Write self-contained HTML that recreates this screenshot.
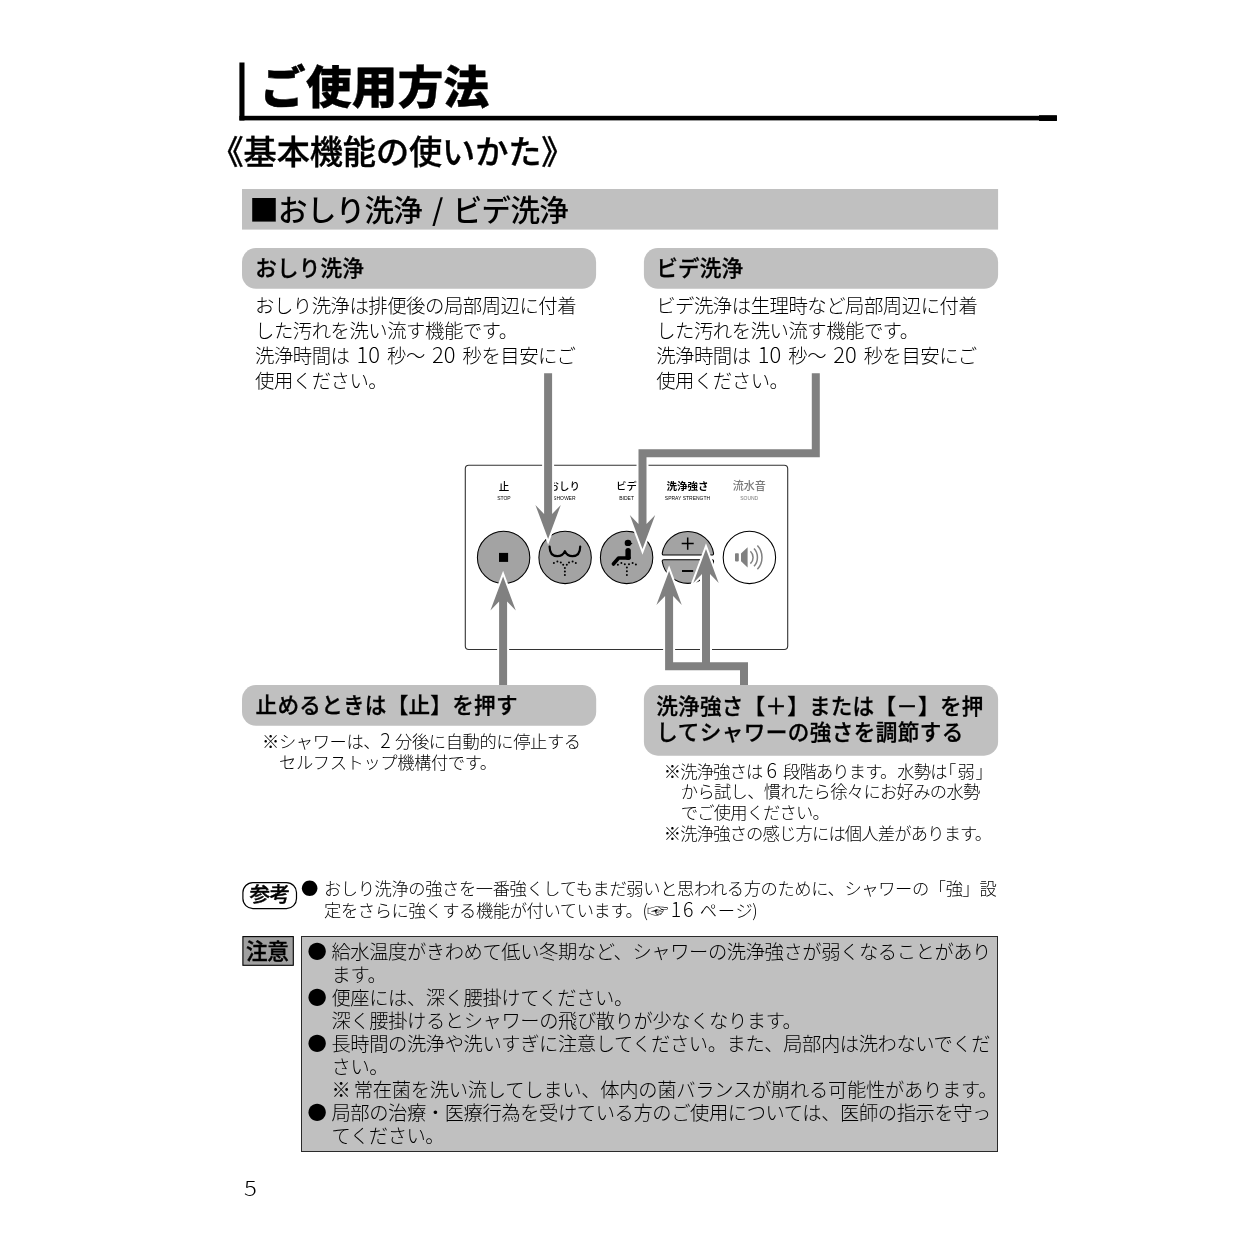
<!DOCTYPE html>
<html lang="ja">
<head>
<meta charset="utf-8">
<title>ご使用方法</title>
<style>
html,body{margin:0;padding:0;background:#fff;}
body{width:1240px;height:1240px;position:relative;overflow:hidden;
  font-family:"Liberation Sans","Noto Sans CJK JP",sans-serif;color:#000;}
#page{position:absolute;left:0;top:0;width:1240px;height:1240px;will-change:transform;}
.abs{position:absolute;}
.t{position:absolute;white-space:nowrap;margin:0;padding:0;}
.k{font-family:"Noto Sans CJK JP","Liberation Sans",sans-serif;line-height:0;}
.h1{font-size:45.6px;font-weight:900;line-height:50px;left:260px;top:63.5px;letter-spacing:0.3px;-webkit-text-stroke:0.4px #000;}
.h2{font-size:33.2px;font-weight:500;line-height:40px;left:210.5px;top:133.3px;letter-spacing:-0.1px;-webkit-text-stroke:0.35px #000;}
.sect{font-size:29.5px;font-weight:500;line-height:41px;left:249.3px;top:189.5px;letter-spacing:-0.7px;}
.pt{font-size:21.6px;font-weight:500;line-height:30px;letter-spacing:0.15px;-webkit-text-stroke:0.3px #000;}
.b{font-size:19.4px;font-weight:300;line-height:25px;letter-spacing:-0.5px;}
.n{font-size:17.3px;font-weight:300;line-height:21.2px;letter-spacing:-0.4px;}
.c{font-size:19.3px;font-weight:300;line-height:23px;letter-spacing:-0.41px;}
.d{font-family:"Noto Sans CJK JP","Liberation Sans",sans-serif;line-height:0;font-size:1.13em;letter-spacing:0;}
</style>
</head>
<body>
<div id="page">
<svg class="abs" style="left:0;top:0" width="1240" height="1240" viewBox="0 0 1240 1240">
<rect x="239.4" y="62.5" width="5.1" height="58" fill="#000"/>
<rect x="239.4" y="115.8" width="817.5" height="4.6" fill="#000"/>
<rect x="1039" y="115.2" width="17.9" height="5.8" fill="#000"/>
<rect x="242" y="189" width="756.1" height="40.6" fill="#c0c0c0"/>
<rect x="242" y="248.1" width="354.1" height="40.7" rx="14" fill="#c0c0c0"/>
<rect x="643.9" y="248.1" width="354.2" height="40.7" rx="14" fill="#c0c0c0"/>
<rect x="242.9" y="882.6" width="53.6" height="26" rx="10" fill="#fff" stroke="#000" stroke-width="1.2"/>
<rect x="242.9" y="936.6" width="50.4" height="28.7" fill="#a0a0a0" stroke="#000" stroke-width="1.1"/>
<rect x="301.5" y="936.5" width="696" height="215" fill="#c0c0c0" stroke="#2a2a2a" stroke-width="1"/>
</svg>
<h1 class="t h1">ご使用方法</h1>
<h2 class="t h2">《基本機能の使いかた》</h2>
<h3 class="t sect"><span class="k">■</span>おしり洗浄<span class="k" style="padding:0 4px"> / </span>ビデ洗浄</h3>

<div class="t pt" style="left:255.2px;top:253.5px">おしり洗浄</div>
<div class="t pt" style="left:656.2px;top:253.5px">ビデ洗浄</div>

<div class="t b" style="left:255px;top:293.8px">おしり洗浄は排便後の局部周辺に付着<br>した汚れを洗い流す機能です。<br><span style="word-spacing:2.2px">洗浄時間は <span class="d">10</span> 秒～ <span class="d">20</span> 秒を目安にご</span><br>使用ください。</div>
<div class="t b" style="left:656.2px;top:293.8px">ビデ洗浄は生理時など局部周辺に付着<br>した汚れを洗い流す機能です。<br><span style="word-spacing:2.2px">洗浄時間は <span class="d">10</span> 秒～ <span class="d">20</span> 秒を目安にご</span><br>使用ください。</div>

<svg class="abs" id="dia" style="left:0;top:0" width="1240" height="1240" viewBox="0 0 1240 1240">
<rect x="465.3" y="465.3" width="322.4" height="184.2" rx="3.5" fill="#fff" stroke="#333" stroke-width="1.1"/>
<circle cx="503.6" cy="557.4" r="26.2" fill="#a3a3a3" stroke="#000" stroke-width="1.05"/>
<circle cx="565.1" cy="557.4" r="26.2" fill="#a3a3a3" stroke="#000" stroke-width="1.05"/>
<circle cx="626.6" cy="557.4" r="26.2" fill="#a3a3a3" stroke="#000" stroke-width="1.05"/>
<path d="M663.83,555.00 Q662.13,555.00 662.23,553.30 A26.0,26.0 0 0 1 713.57,553.30 Q713.67,555.00 711.97,555.00 Z" fill="#a3a3a3" stroke="#000" stroke-width="1.05"/>
<path d="M663.83,559.80 Q662.13,559.80 662.23,561.50 A26.0,26.0 0 0 0 713.57,561.50 Q713.67,559.80 711.97,559.80 Z" fill="#a3a3a3" stroke="#000" stroke-width="1.05"/>
<path d="M681.7,543.5 H693.7 M687.7,537.4 V549.7" stroke="#000" stroke-width="1.5" fill="none"/>
<path d="M682,571 H693.2" stroke="#000" stroke-width="1.9" fill="none"/>
<circle cx="749.4" cy="557.4" r="26.2" fill="#fff" stroke="#000" stroke-width="1.05"/>
<g fill="#808080" stroke="none"><rect x="735" y="553.2" width="3.8" height="8.2" rx="0.8"/><path d="M741,553.4 L747.6,547.2 V567.4 L741,561.2 Z"/></g>
<g fill="none" stroke="#808080" stroke-width="1.5" stroke-linecap="butt"><path d="M750.4,551.2 A8.5,8.5 0 0 1 750.4,563.6"/><path d="M754,548.6 A13,13 0 0 1 754,566.2"/><path d="M757.4,545.6 A17.5,17.5 0 0 1 757.4,569.2"/></g>
<rect x="499" y="552.9" width="9.1" height="9" fill="#000"/>
<path d="M549.6,546.6 C549.6,553 552.6,556.2 557.3,556.2 C561,556.2 563.6,554 564.9,551.2 C566.2,554 568.8,556.2 572.5,556.2 C577.2,556.2 580.2,553 580.2,546.6" fill="none" stroke="#000" stroke-width="2.2" stroke-linecap="round" stroke-linejoin="round"/>
<g fill="#000"><circle cx="553.9" cy="562.9" r="1.0"/><circle cx="557.4" cy="561.6" r="1.0"/><circle cx="560.8" cy="562.5" r="1.0"/><circle cx="563.2" cy="564.8" r="1.0"/><circle cx="566.8" cy="564.8" r="1.0"/><circle cx="569.0" cy="562.5" r="1.0"/><circle cx="572.6" cy="561.6" r="1.0"/><circle cx="575.8" cy="562.9" r="1.0"/><circle cx="564.9" cy="568.1" r="1.0"/><circle cx="564.9" cy="571.5" r="1.0"/><circle cx="564.9" cy="575.0" r="1.0"/></g>
<ellipse cx="628" cy="542.9" rx="3.3" ry="3.2" fill="#000"/><path d="M628,541.5 L632.6,543.6 L629.5,545.6 Z" fill="#000"/>
<path d="M628.1,550.6 V557.3" fill="none" stroke="#000" stroke-width="5.4" stroke-linecap="round"/>
<path d="M629,558 H618.6 L613.4,564" fill="none" stroke="#000" stroke-width="3.6" stroke-linecap="round" stroke-linejoin="round"/>
<g fill="#000"><circle cx="617.9" cy="564.7" r="1.0"/><circle cx="621.4" cy="563.1" r="1.0"/><circle cx="624.8" cy="564.2" r="1.0"/><circle cx="629.0" cy="564.2" r="1.0"/><circle cx="632.6" cy="562.9" r="1.0"/><circle cx="635.9" cy="564.5" r="1.0"/><circle cx="626.9" cy="567.5" r="1.0"/><circle cx="626.9" cy="571.3" r="1.0"/><circle cx="626.9" cy="575.0" r="1.0"/></g>
<text x="503.9" y="490.3" text-anchor="middle" font-size="10.5" font-weight="500" fill="#000" font-family="'Liberation Sans','Noto Sans CJK JP',sans-serif">止</text>
<text x="503.9" y="500" text-anchor="middle" font-size="5" fill="#000" font-family="'Liberation Sans',sans-serif">STOP</text>
<text x="564.3" y="490.3" text-anchor="middle" font-size="10.5" font-weight="500" fill="#000" font-family="'Liberation Sans','Noto Sans CJK JP',sans-serif">おしり</text>
<text x="564.3" y="500" text-anchor="middle" font-size="5" fill="#000" font-family="'Liberation Sans',sans-serif">SHOWER</text>
<text x="626.6" y="490.3" text-anchor="middle" font-size="10.5" font-weight="500" fill="#000" font-family="'Liberation Sans','Noto Sans CJK JP',sans-serif">ビデ</text>
<text x="626.6" y="500" text-anchor="middle" font-size="5" fill="#000" font-family="'Liberation Sans',sans-serif">BIDET</text>
<text x="687.5" y="490.3" text-anchor="middle" font-size="10.5" font-weight="700" fill="#000" font-family="'Liberation Sans','Noto Sans CJK JP',sans-serif">洗浄強さ</text>
<text x="687.5" y="500" text-anchor="middle" font-size="5" fill="#000" font-family="'Liberation Sans',sans-serif">SPRAY STRENGTH</text>
<text x="749.2" y="490.3" text-anchor="middle" font-size="11.0" font-weight="500" fill="#7a7a7a" font-family="'Liberation Sans','Noto Sans CJK JP',sans-serif">流水音</text>
<text x="749.2" y="500" text-anchor="middle" font-size="5" fill="#7a7a7a" font-family="'Liberation Sans',sans-serif">SOUND</text>
<g fill="#fff" stroke="#fff" stroke-width="4.0" stroke-linejoin="miter" stroke-miterlimit="10"><polygon points="544.1,373.3 544.1,514.0 535.4,505.0 548.1,539.0 560.8,505.0 552.1,514.0 552.1,373.3"/><polygon points="811.8,373.3 811.8,449.2 638.5,449.2 638.5,524.0 629.8,515.0 642.5,549.0 655.2,515.0 646.5,524.0 646.5,457.2 819.8,457.2 819.8,373.3"/><polygon points="507.1,686.0 507.1,601.4 515.8,610.4 503.1,576.4 490.4,610.4 499.1,601.4 499.1,686.0"/><polygon points="748.0,686.0 748.0,662.2 710.0,662.2 710.0,574.0 718.7,583.0 706.0,549.0 693.3,583.0 702.0,574.0 702.0,662.2 673.1,662.2 673.1,596.0 681.8,605.0 669.1,571.0 656.4,605.0 665.1,596.0 665.1,670.2 740.0,670.2 740.0,686.0"/></g>
<g fill="#808080"><polygon points="544.1,373.3 544.1,514.0 535.4,505.0 548.1,539.0 560.8,505.0 552.1,514.0 552.1,373.3"/><polygon points="811.8,373.3 811.8,449.2 638.5,449.2 638.5,524.0 629.8,515.0 642.5,549.0 655.2,515.0 646.5,524.0 646.5,457.2 819.8,457.2 819.8,373.3"/><polygon points="507.1,686.0 507.1,601.4 515.8,610.4 503.1,576.4 490.4,610.4 499.1,601.4 499.1,686.0"/><polygon points="748.0,686.0 748.0,662.2 710.0,662.2 710.0,574.0 718.7,583.0 706.0,549.0 693.3,583.0 702.0,574.0 702.0,662.2 673.1,662.2 673.1,596.0 681.8,605.0 669.1,571.0 656.4,605.0 665.1,596.0 665.1,670.2 740.0,670.2 740.0,686.0"/></g>
<rect x="242" y="685.1" width="354.2" height="40.7" rx="14" fill="#c0c0c0"/>
<rect x="643.9" y="685.1" width="354.2" height="70.6" rx="14" fill="#c0c0c0"/>
</svg>

<div class="t pt" style="left:255.6px;top:690.7px;letter-spacing:0.25px">止めるときは【止】を押す</div>
<div class="t pt" style="left:656.3px;top:693.6px;line-height:26.6px;letter-spacing:0.22px">洗浄強さ【＋】または【－】を押<br><span style="letter-spacing:0.42px">してシャワーの強さを調節する</span></div>

<div class="t n" style="left:262px;top:731.5px">※シャワーは、<span class="d">2</span> 分後に自動的に停止する<br><span style="padding-left:17px">セルフストップ機構付です。</span></div>
<div class="t n" style="left:663.8px;top:761.6px;line-height:20.7px;letter-spacing:-0.82px">※洗浄強さは <span class="d">6</span> <span style="padding-left:2px">段階あります。</span><span style="padding-left:0.8px">水勢は</span><span style="font-feature-settings:'halt' 1;padding:0 2px 0 1px">「</span>弱<span style="font-feature-settings:'halt' 1;padding-left:1.5px">」</span><br><span style="padding-left:17px;letter-spacing:-0.68px">から試し、慣れたら徐々にお好みの水勢</span><br><span style="padding-left:17px">でご使用ください。</span><br>※洗浄強さの感じ方には個人差があります。</div>

<div class="t" style="left:249.4px;top:881.3px;font-size:20.6px;font-weight:500;line-height:28px;letter-spacing:-0.4px;-webkit-text-stroke:0.4px #000">参考</div>
<div class="t n" style="left:301px;top:879px;line-height:21.6px"><span class="k">●</span><span style="padding-left:6px">おしり洗浄の強さを一番強くしてもまだ弱いと思われる方のために、シャワーの「強」設</span><br><span style="padding-left:23px">定をさらに強くする機能が付いています。<span class="k">(</span><span style="display:inline-block;line-height:0;transform:scale(1.25,1);margin-left:1.6px;font-weight:400">☞</span> <span class="d" style="letter-spacing:1.6px;padding-left:0.4px">16</span> <span style="padding-left:0.5px;letter-spacing:0.7px">ページ</span><span class="k" style="margin-left:-1.2px">)</span></span></div>

<div class="t" style="left:246px;top:937.6px;font-size:21.6px;font-weight:500;line-height:28px;letter-spacing:-0.3px;-webkit-text-stroke:0.4px #000">注意</div>
<div class="t c" style="left:307.6px;top:940.6px"><span class="k">●</span><span style="padding-left:5px">給水温度がきわめて低い冬期など、シャワーの洗浄強さが弱くなることがあり</span><br><span style="padding-left:24px">ます。</span><br><span class="k">●</span><span style="padding-left:5px">便座には、深く腰掛けてください。</span><br><span style="padding-left:24px">深く腰掛けるとシャワーの飛び散りが少なくなります。</span><br><span class="k">●</span><span style="padding-left:5px">長時間の洗浄や洗いすぎに注意してください。また、局部内は洗わないでくだ</span><br><span style="padding-left:24px">さい。</span><br><span style="padding-left:24px;letter-spacing:-0.27px;word-spacing:-2px">※ 常在菌を洗い流してしまい、体内の菌バランスが崩れる可能性があります。</span><br><span class="k">●</span><span style="padding-left:5px">局部の治療・医療行為を受けている方のご使用については、医師の指示を守っ</span><br><span style="padding-left:24px">てください。</span></div>

<div class="t" style="left:244.2px;top:1176.6px;font-size:18.4px;font-weight:300;line-height:26px"><span class="d" style="display:inline-block;transform:scaleX(1.15);transform-origin:0 50%">5</span></div>
</div>
</body>
</html>
